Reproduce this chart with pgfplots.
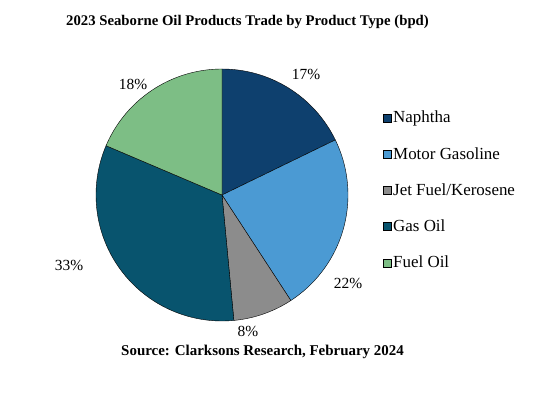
\documentclass[border=0pt]{standalone}
\usepackage{fontspec}
\setmainfont{Liberation Serif}
\usepackage{pgfplots}
\pgfplotsset{compat=1.18}
\definecolor{cNaph}{HTML}{0E406E}
\definecolor{cMogas}{HTML}{4B9AD3}
\definecolor{cJet}{HTML}{8C8C8C}
\definecolor{cGasoil}{HTML}{08546E}
\definecolor{cFuel}{HTML}{7DBE85}
% shares in percent
\def\vNaph{17.8}
\def\vMogas{23.0}
\def\vJet{7.7}
\def\vGasoil{32.9}
\def\vFuel{18.6}
\pgfmathsetmacro{\aA}{90}
\pgfmathsetmacro{\aB}{\aA-3.6*\vNaph}
\pgfmathsetmacro{\aC}{\aB-3.6*\vMogas}
\pgfmathsetmacro{\aD}{\aC-3.6*\vJet}
\pgfmathsetmacro{\aE}{\aD-3.6*\vGasoil}
\pgfmathsetmacro{\aF}{\aE-3.6*\vFuel}
\def\cx{222}\def\cy{199}\def\rr{126}
\begin{document}
\begin{tikzpicture}
\begin{axis}[
  scale only axis, width=544bp, height=394bp,
  xmin=0, xmax=544, ymin=0, ymax=394,
  hide axis, clip=false,
  legend cell align=left,
  legend style={at={(axis cs:383,284)}, anchor=north west, draw=none, fill=none,
    font=\fontsize{17}{19}\selectfont, row sep=21bp, inner sep=0pt,
    nodes={inner xsep=1.5bp, inner ysep=1bp}},
  legend image code/.code={\draw[#1, draw=black, line width=0.5pt] (0bp,-4bp) rectangle (8bp,4bp);},
]
\addplot[fill=cNaph, draw=black, line width=0.4pt, domain=\aB:\aA, samples=60]
  ({\cx+\rr*cos(x)},{\cy+\rr*sin(x)}) -- (axis cs:\cx,\cy) -- cycle;
\addlegendentry{Naphtha}
\addplot[fill=cMogas, draw=black, line width=0.4pt, domain=\aC:\aB, samples=60]
  ({\cx+\rr*cos(x)},{\cy+\rr*sin(x)}) -- (axis cs:\cx,\cy) -- cycle;
\addlegendentry{Motor Gasoline}
\addplot[fill=cJet, draw=black, line width=0.4pt, domain=\aD:\aC, samples=30]
  ({\cx+\rr*cos(x)},{\cy+\rr*sin(x)}) -- (axis cs:\cx,\cy) -- cycle;
\addlegendentry{Jet Fuel/Kerosene}
\addplot[fill=cGasoil, draw=black, line width=0.4pt, domain=\aE:\aD, samples=80]
  ({\cx+\rr*cos(x)},{\cy+\rr*sin(x)}) -- (axis cs:\cx,\cy) -- cycle;
\addlegendentry{Gas Oil}
\addplot[fill=cFuel, draw=black, line width=0.4pt, domain=\aF:\aE, samples=60]
  ({\cx+\rr*cos(x)},{\cy+\rr*sin(x)}) -- (axis cs:\cx,\cy) -- cycle;
\addlegendentry{Fuel Oil}
\begin{scope}[every node/.style={font=\fontsize{15.5}{17}\selectfont}]
\node at (axis cs:306,320) {17\%};
\node at (axis cs:348,111) {22\%};
\node at (axis cs:248,63) {8\%};
\node at (axis cs:69,129) {33\%};
\node at (axis cs:133,310) {18\%};
\end{scope}
\node[font=\bfseries\fontsize{14.8}{17}\selectfont] at (axis cs:247.5,372) {2023 Seaborne Oil Products Trade by Product Type (bpd)};
\node[font=\bfseries\fontsize{15}{17}\selectfont] at (axis cs:262.5,42) {Source: Clarksons Research, February 2024};
\end{axis}
\useasboundingbox (0,0) rectangle (544bp,394bp);
\end{tikzpicture}
\end{document}
